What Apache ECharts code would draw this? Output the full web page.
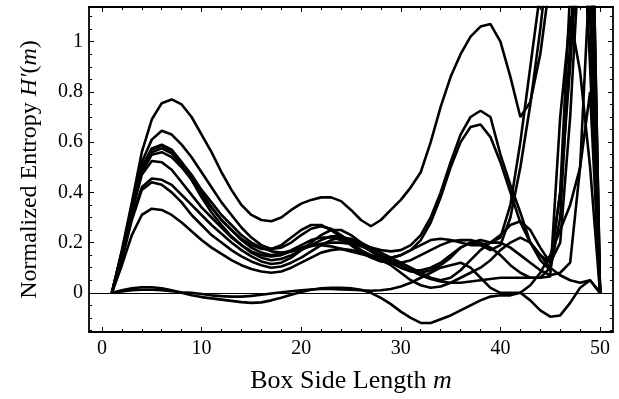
<!DOCTYPE html>
<html>
<head>
<meta charset="utf-8">
<script src="https://cdn.jsdelivr.net/npm/echarts@6/dist/echarts.min.js"></script>
<style>
  html, body { margin: 0; padding: 0; background: #fff; }
  #chart { width: 619px; height: 399px; }
</style>
</head>
<body>
<div id="chart"></div>
<script>
// box side length m
const boxSize = [1, 2, 3, 4, 5, 6, 7, 8, 9, 10, 11, 12, 13, 14, 15, 16, 17, 18, 19, 20,
  21, 22, 23, 24, 25, 26, 27, 28, 29, 30, 31, 32, 33, 34, 35, 36, 37, 38, 39, 40,
  41, 42, 43, 44, 45, 46, 47, 48, 49, 50];

// normalized entropy curves
const curveA = [0, 0.17, 0.36, 0.56, 0.69, 0.755, 0.77, 0.75, 0.70, 0.63, 0.56, 0.48, 0.41, 0.35, 0.31, 0.29, 0.285, 0.30, 0.33, 0.355,
  0.37, 0.38, 0.38, 0.365, 0.33, 0.29, 0.265, 0.29, 0.33, 0.37, 0.42, 0.48, 0.60, 0.74, 0.86, 0.95, 1.02, 1.06, 1.07, 1.0,
  0.86, 0.70, 0.76, 0.95, 1.25, 1.6, 1.9, 1.8, 1.5, 0];
const curveB = [0, 0.16, 0.34, 0.52, 0.61, 0.645, 0.63, 0.59, 0.54, 0.48, 0.42, 0.36, 0.31, 0.26, 0.22, 0.19, 0.175, 0.18, 0.20, 0.23,
  0.255, 0.265, 0.255, 0.23, 0.20, 0.17, 0.15, 0.14, 0.14, 0.15, 0.17, 0.19, 0.21, 0.215, 0.21, 0.20, 0.19, 0.19, 0.20, 0.23,
  0.27, 0.285, 0.25, 0.18, 0.12, 0.4, 0.9, 1.5, 2.0, 0];
const curveC1 = [0, 0.16, 0.34, 0.50, 0.575, 0.59, 0.57, 0.52, 0.46, 0.40, 0.34, 0.29, 0.25, 0.21, 0.18, 0.16, 0.15, 0.155, 0.17, 0.19,
  0.21, 0.22, 0.22, 0.21, 0.20, 0.19, 0.18, 0.17, 0.165, 0.17, 0.19, 0.23, 0.30, 0.40, 0.52, 0.63, 0.70, 0.725, 0.70, 0.55,
  0.43, 0.32, 0.20, 0.13, 0.09, 0.3, 1.0, 1.6, 1.9, 0];
const curveC2 = [0, 0.16, 0.33, 0.49, 0.56, 0.575, 0.555, 0.51, 0.45, 0.38, 0.32, 0.27, 0.225, 0.19, 0.165, 0.15, 0.145, 0.15, 0.165, 0.18,
  0.19, 0.19, 0.185, 0.175, 0.165, 0.155, 0.145, 0.14, 0.14, 0.15, 0.17, 0.21, 0.28, 0.38, 0.50, 0.60, 0.66, 0.67, 0.62, 0.52,
  0.40, 0.28, 0.20, 0.15, 0.12, 0.2, 0.7, 1.4, 2.0, 0];
const curveC3 = [0, 0.16, 0.33, 0.48, 0.55, 0.56, 0.54, 0.50, 0.45, 0.39, 0.34, 0.29, 0.25, 0.215, 0.19, 0.175, 0.175, 0.19, 0.22, 0.25,
  0.27, 0.27, 0.25, 0.22, 0.19, 0.16, 0.14, 0.125, 0.12, 0.12, 0.13, 0.15, 0.17, 0.19, 0.205, 0.21, 0.21, 0.20, 0.18, 0.15,
  0.11, 0.08, 0.06, 0.06, 0.1, 0.4, 1.2, 1.9, 1.4, 0];
const curveC4 = [0, 0.16, 0.34, 0.50, 0.57, 0.585, 0.565, 0.52, 0.47, 0.41, 0.36, 0.31, 0.27, 0.23, 0.20, 0.18, 0.165, 0.16, 0.165, 0.175,
  0.185, 0.195, 0.20, 0.20, 0.195, 0.185, 0.17, 0.15, 0.13, 0.11, 0.09, 0.07, 0.055, 0.045, 0.04, 0.04, 0.045, 0.05, 0.055, 0.06,
  0.06, 0.06, 0.06, 0.06, 0.065, 0.7, 1.1, 0.88, 0.5, 0];
const curveD = [0, 0.15, 0.32, 0.47, 0.525, 0.52, 0.49, 0.44, 0.39, 0.34, 0.30, 0.26, 0.22, 0.19, 0.16, 0.14, 0.13, 0.135, 0.15, 0.17,
  0.19, 0.21, 0.225, 0.225, 0.21, 0.19, 0.165, 0.14, 0.12, 0.10, 0.09, 0.09, 0.10, 0.12, 0.15, 0.18, 0.20, 0.21, 0.20, 0.22,
  0.35, 0.6, 0.9, 1.2, 1.5, 1.7, 1.6, 1.4, 1.1, 0];
const curveE1 = [0, 0.14, 0.30, 0.42, 0.455, 0.45, 0.43, 0.39, 0.35, 0.31, 0.27, 0.235, 0.20, 0.17, 0.145, 0.125, 0.115, 0.12, 0.14, 0.17,
  0.20, 0.23, 0.25, 0.25, 0.23, 0.20, 0.17, 0.14, 0.12, 0.10, 0.085, 0.08, 0.09, 0.11, 0.14, 0.18, 0.20, 0.19, 0.17, 0.19,
  0.30, 0.50, 0.75, 1.05, 1.4, 1.7, 1.8, 1.7, 0.9, 0];
const curveE2 = [0, 0.13, 0.29, 0.41, 0.44, 0.43, 0.40, 0.36, 0.31, 0.27, 0.23, 0.20, 0.17, 0.145, 0.125, 0.11, 0.10, 0.105, 0.12, 0.14,
  0.165, 0.19, 0.21, 0.22, 0.215, 0.20, 0.18, 0.16, 0.14, 0.12, 0.10, 0.08, 0.06, 0.05, 0.06, 0.09, 0.13, 0.17, 0.20, 0.20,
  0.18, 0.15, 0.12, 0.09, 0.07, 0.08, 0.12, 0.5, 1.3, 0];
const curveF = [0, 0.11, 0.23, 0.31, 0.335, 0.33, 0.31, 0.28, 0.245, 0.21, 0.18, 0.155, 0.13, 0.11, 0.095, 0.085, 0.08, 0.085, 0.10, 0.12,
  0.14, 0.16, 0.17, 0.175, 0.17, 0.16, 0.15, 0.13, 0.11, 0.08, 0.05, 0.03, 0.02, 0.025, 0.04, 0.06, 0.08, 0.10, 0.13, 0.17,
  0.20, 0.22, 0.20, 0.15, 0.10, 0.07, 0.05, 0.04, 0.05, 0];
const curveG = [0, 0.01, 0.018, 0.022, 0.022, 0.018, 0.01, 0, -0.01, -0.017, -0.022, -0.027, -0.032, -0.037, -0.04, -0.038, -0.03, -0.02, -0.008, 0.003,
  0.012, 0.018, 0.02, 0.02, 0.018, 0.012, 0, -0.02, -0.045, -0.075, -0.10, -0.12, -0.12, -0.105, -0.09, -0.07, -0.05, -0.03, -0.015, -0.01,
  -0.01, 0, 0.03, 0.08, 0.15, 0.25, 0.35, 0.5, 0.8, 0];
const curveH = [0, 0.005, 0.01, 0.012, 0.012, 0.01, 0.006, 0.002, 0, -0.005, -0.01, -0.013, -0.015, -0.015, -0.012, -0.008, -0.003, 0.002, 0.006, 0.01,
  0.013, 0.015, 0.015, 0.013, 0.012, 0.01, 0.008, 0.01, 0.015, 0.025, 0.04, 0.06, 0.08, 0.10, 0.11, 0.12, 0.10, 0.06, 0.02, 0,
  0, 0, -0.03, -0.07, -0.095, -0.09, -0.04, 0.02, 0.05, 0];

const curves = [curveA, curveB, curveC1, curveC2, curveC3, curveC4, curveD, curveE1, curveE2, curveF, curveG, curveH];

// tick positions
const xMajor = [0, 10, 20, 30, 40, 50];
const xMinor = [2, 4, 6, 8, 12, 14, 16, 18, 22, 24, 26, 28, 32, 34, 36, 38, 42, 44, 46, 48];
const yMajor = [0, 0.2, 0.4, 0.6, 0.8, 1];
const yMinor = [-0.15, -0.1, -0.05, 0.05, 0.1, 0.15, 0.25, 0.3, 0.35, 0.45, 0.5, 0.55, 0.65, 0.7, 0.75,
  0.85, 0.9, 0.95, 1.05, 1.1];

const X_MIN = -1.3, X_MAX = 51.3;
const Y_MIN = -0.156, Y_MAX = 1.138;

const font = '"Liberation Serif", "DejaVu Serif", serif';
const black = '#000';

function makeAxis(position, ticks, len, withLabels, withLine, min, max) {
  return {
    type: 'value',
    position: position,
    min: min,
    max: max,
    axisLine: { show: withLine, onZero: false, lineStyle: { color: black, width: 1.8 } },
    axisTick: {
      show: true,
      inside: true,
      length: len,
      customValues: ticks,
      lineStyle: { color: black, width: 1 },
    },
    axisLabel: withLabels
      ? {
          show: true,
          customValues: ticks,
          fontFamily: font,
          fontSize: 20,
          color: black,
        }
      : { show: false },
    splitLine: { show: false },
  };
}

const chart = echarts.init(document.getElementById('chart'));

const xBottom = makeAxis('bottom', xMajor, 5, true, true, X_MIN, X_MAX);
xBottom.axisLabel.margin = 7;
xBottom.name = 'Box Side Length {i|m}';
xBottom.nameLocation = 'middle';
xBottom.nameGap = 36;
xBottom.nameTextStyle = {
  fontFamily: font,
  fontSize: 26,
  color: black,
  rich: { i: { fontFamily: font, fontSize: 26, fontStyle: 'italic', color: black } },
};

const yLeft = makeAxis('left', yMajor, 5, true, true, Y_MIN, Y_MAX);
yLeft.axisLabel.margin = 6;
yLeft.name = 'Normalized Entropy {i|H′}({i|m})';
yLeft.nameLocation = 'middle';
yLeft.nameGap = 47;
yLeft.nameTextStyle = {
  fontFamily: font,
  fontSize: 24,
  color: black,
  rich: { i: { fontFamily: font, fontSize: 24, fontStyle: 'italic', color: black } },
};

const option = {
  backgroundColor: '#fff',
  animation: false,
  grid: { left: 89, right: 6, top: 7, bottom: 66, containLabel: false },
  xAxis: [
    xBottom,
    makeAxis('bottom', xMinor, 3, false, false, X_MIN, X_MAX),
    makeAxis('top', xMajor, 5, false, true, X_MIN, X_MAX),
    makeAxis('top', xMinor, 3, false, false, X_MIN, X_MAX),
  ],
  yAxis: [
    yLeft,
    makeAxis('left', yMinor, 3, false, false, Y_MIN, Y_MAX),
    makeAxis('right', yMajor, 5, false, true, Y_MIN, Y_MAX),
    makeAxis('right', yMinor, 3, false, false, Y_MIN, Y_MAX),
  ],
  series: curves.map((c, k) => ({
    type: 'line',
    xAxisIndex: 0,
    yAxisIndex: 0,
    data: boxSize.map((m, i) => [m, c[i]]),
    showSymbol: false,
    symbol: 'none',
    clip: true,
    lineStyle: { color: black, width: 2.6 },
    markLine: k === 0
      ? {
          silent: true,
          symbol: 'none',
          label: { show: false },
          lineStyle: { color: black, width: 1.2, type: 'solid' },
          data: [{ yAxis: 0 }],
        }
      : undefined,
  })),
};

chart.setOption(option);
</script>
</body>
</html>
